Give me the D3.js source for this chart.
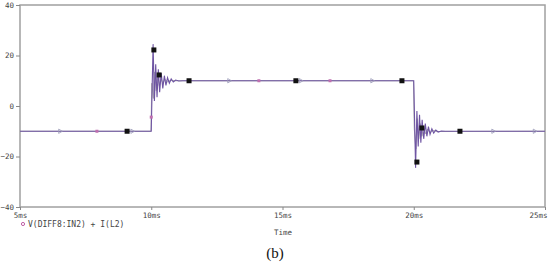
<!DOCTYPE html>
<html>
<head>
<meta charset="utf-8">
<script src="https://cdn.jsdelivr.net/npm/d3@7"></script>
<style>
body { margin: 0; background: #fff; }
text { font-family: "DejaVu Sans Mono", monospace; }
</style>
</head>
<body>
<script>
// tick labels
var xTicks = [5, 10, 15, 20, 25];
var yTicks = [40, 20, 0, -20, -40];

// main trace (purple), time in ms
var mainT = [5, 10.00, 10.03, 10.07, 10.12, 10.17, 10.22, 10.27, 10.32, 10.38, 10.44, 10.50, 10.56, 10.62, 10.69, 10.76, 10.84, 10.93, 11.05, 11.2,
             20.00, 20.03, 20.07, 20.12, 20.17, 20.22, 20.27, 20.32, 20.38, 20.44, 20.50, 20.56, 20.62, 20.69, 20.76, 20.84, 20.93, 21.05, 21.2, 25];
var mainV = [-10, -10, 5, 24.5, 2, 16.5, 3.5, 14.5, 5.5, 13, 7, 12, 8.2, 11.2, 9, 10.7, 9.5, 10.3, 9.9, 10,
             10, -5, -24.5, -2, -16, -3.5, -14.5, -5.5, -13, -7, -12, -8.2, -11.2, -9, -10.7, -9.5, -10.3, -9.9, -10, -10];

// second trace (gray), smaller ringing
var grayT = [5, 9.99, 10.02, 10.08, 10.13, 10.19, 10.25, 10.31, 10.37, 10.44, 10.52, 10.62, 10.75, 10.9,
             19.99, 20.02, 20.08, 20.13, 20.19, 20.25, 20.31, 20.37, 20.44, 20.52, 20.62, 20.75, 20.9, 25];
var grayV = [-10, -10, 9, 3, 13.5, 6, 12, 8, 11, 9, 10.5, 9.6, 10.2, 10,
             10, -9, -17, -5, -13, -7, -12, -8.5, -11, -9.2, -10.5, -9.7, -10.1, -10];

// markers
var blackT = [9.08, 10.1, 10.3, 11.44, 15.51, 19.55, 20.12, 20.31, 21.76];
var blackV = [-10, 22.2, 12.3, 10, 10, 10, -22.2, -8.7, -10];
var pinkT = [7.93, 10.0, 14.1, 16.81];
var pinkV = [-10, -4.4, 10, 10];
var triT = [6.52, 9.27, 12.96, 15.69, 18.41, 23.02, 24.6];
var triV = [-10, -10, 10, 10, 10, -10, -10];

var svg = d3.select("body").append("svg")
    .attr("width", 550)
    .attr("height", 264);

var x = d3.scaleLinear().domain([5, 25]).range([20, 545]);
var y = d3.scaleLinear().domain([-40, 40]).range([207, 5]);

// frame
svg.append("rect")
    .attr("x", x(5))
    .attr("y", y(40))
    .attr("width", x(25) - x(5))
    .attr("height", y(-40) - y(40))
    .attr("fill", "none")
    .attr("stroke", "#a0a0a0")
    .attr("stroke-width", 1.5);

// y axis
var yAxis = svg.append("g")
    .attr("transform", "translate(" + x(5) + ",0)")
    .call(d3.axisLeft(y).tickValues(yTicks).tickSize(4).tickPadding(2));
yAxis.select(".domain").remove();
yAxis.selectAll("line").attr("stroke", "#888");
yAxis.selectAll("text").attr("font-family", "DejaVu Sans Mono").attr("font-size", 7.5).attr("fill", "#444");

// x axis
var xAxis = svg.append("g")
    .attr("transform", "translate(0," + y(-40) + ")")
    .call(d3.axisBottom(x).tickValues(xTicks).tickSize(3).tickPadding(3).tickFormat(function(d) { return d + "ms"; }));
xAxis.select(".domain").remove();
xAxis.selectAll("line").attr("stroke", "#888");
xAxis.selectAll("text").attr("font-family", "DejaVu Sans Mono").attr("font-size", 7.5).attr("fill", "#444");
xAxis.selectAll(".tick").filter(function(d) { return d === 25; }).select("text").attr("text-anchor", "end").attr("dx", 2);

var line = d3.line()
    .x(function(d) { return x(d[0]); })
    .y(function(d) { return y(d[1]); });

svg.append("path")
    .datum(d3.zip(grayT, grayV))
    .attr("d", line)
    .attr("fill", "none")
    .attr("stroke", "#a9a9a9")
    .attr("stroke-width", 1);

svg.append("path")
    .datum(d3.zip(mainT, mainV))
    .attr("d", line)
    .attr("fill", "none")
    .attr("stroke", "#6f55a3")
    .attr("stroke-width", 1.1);

// triangle markers
svg.selectAll(".tri")
    .data(d3.zip(triT, triV))
    .enter().append("path")
    .attr("class", "tri")
    .attr("d", d3.symbol(d3.symbolTriangle, 8))
    .attr("transform", function(d) { return "translate(" + x(d[0]) + "," + y(d[1]) + ") rotate(90)"; })
    .attr("fill", "none")
    .attr("stroke", "#9a9ab8")
    .attr("stroke-width", 0.8);

// pink markers
svg.selectAll(".pink")
    .data(d3.zip(pinkT, pinkV))
    .enter().append("rect")
    .attr("class", "pink")
    .attr("x", function(d) { return x(d[0]) - 1.5; })
    .attr("y", function(d) { return y(d[1]) - 1.5; })
    .attr("width", 3)
    .attr("height", 3)
    .attr("fill", "#c070b0");

// black squares
svg.selectAll(".blk")
    .data(d3.zip(blackT, blackV))
    .enter().append("rect")
    .attr("class", "blk")
    .attr("x", function(d) { return x(d[0]) - 2.5; })
    .attr("y", function(d) { return y(d[1]) - 2.5; })
    .attr("width", 5)
    .attr("height", 5)
    .attr("fill", "#111");

// legend
svg.append("circle")
    .attr("cx", 23)
    .attr("cy", 224)
    .attr("r", 1.6)
    .attr("fill", "none")
    .attr("stroke", "#c060a8")
    .attr("stroke-width", 1);

svg.append("text")
    .attr("x", 28)
    .attr("y", 227)
    .attr("font-size", 8)
    .attr("fill", "#444")
    .text("V(DIFF8:IN2) + I(L2)");

svg.append("text")
    .attr("x", 283)
    .attr("y", 235)
    .attr("text-anchor", "middle")
    .attr("font-size", 7.5)
    .attr("fill", "#444")
    .text("Time");

svg.append("text")
    .attr("x", 275)
    .attr("y", 258)
    .attr("text-anchor", "middle")
    .attr("font-family", "Liberation Serif, serif")
    .style("font-family", "'Liberation Serif', serif")
    .attr("font-size", 15)
    .attr("fill", "#111")
    .text("(b)");
</script>
</body>
</html>
